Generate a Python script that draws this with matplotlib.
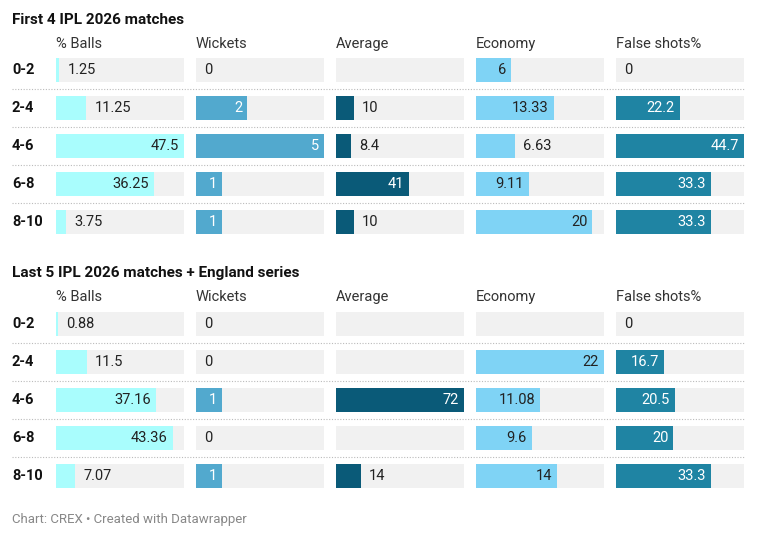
import matplotlib
matplotlib.use("Agg")
import matplotlib.pyplot as plt

plt.rcParams["font.family"] = ["Roboto", "DejaVu Sans"]

rows = ["0-2", "2-4", "4-6", "6-8", "8-10"]
columns = ["% Balls", "Wickets", "Average", "Economy", "False shots%"]
titles = ["First 4 IPL 2026 matches", "Last 5 IPL 2026 matches + England series"]

# None = empty cell
first_balls = [1.25, 11.25, 47.5, 36.25, 3.75]
first_wkts = [0, 2, 5, 1, 1]
first_avg = [None, 10, 8.4, 41, 10]
first_econ = [6, 13.33, 6.63, 9.11, 20]
first_false = [0, 22.2, 44.7, 33.3, 33.3]

last_balls = [0.88, 11.5, 37.16, 43.36, 7.07]
last_wkts = [0, 0, 1, 0, 1]
last_avg = [None, None, 72, None, 14]
last_econ = [None, 22, 11.08, 9.6, 14]
last_false = [0, 16.7, 20.5, 20, 33.3]

labels_first = [["1.25", "11.25", "47.5", "36.25", "3.75"], ["0", "2", "5", "1", "1"],
                ["", "10", "8.4", "41", "10"], ["6", "13.33", "6.63", "9.11", "20"],
                ["0", "22.2", "44.7", "33.3", "33.3"]]
labels_last = [["0.88", "11.5", "37.16", "43.36", "7.07"], ["0", "0", "1", "0", "1"],
               ["", "", "72", "", "14"], ["", "22", "11.08", "9.6", "14"],
               ["0", "16.7", "20.5", "20", "33.3"]]

colors = ["#a9fdfd", "#52a9ce", "#0a5a78", "#7fd3f5", "#1f84a3"]
text_in = ["#222222", "white", "white", "#222222", "white"]
col_x = [56, 196, 336, 476, 616]
col_w = 128
row_h = 24
panels = [
    (first_balls, first_wkts, first_avg, first_econ, first_false, labels_first, 20, 44, [70, 108, 146, 184, 222]),
    (last_balls, last_wkts, last_avg, last_econ, last_false, labels_last, 273, 297, [324, 362, 400, 438, 476]),
]
maxes = [47.5, 5, 72, 22, 44.7]

fig = plt.figure(figsize=(7.57, 5.40), dpi=100)
ax = fig.add_axes([0, 0, 1, 1])
ax.set_xlim(0, 757); ax.set_ylim(540, 0); ax.axis("off")

for pi, (b, w, a, e, f, labs, ty, hy, ys) in enumerate(panels):
    ax.text(12, ty, titles[pi], fontsize=11, fontweight="bold", va="center", color="#111111")
    for ci, name in enumerate(columns):
        ax.text(col_x[ci], hy, name, fontsize=10.5, va="center", color="#333333")
    series = [b, w, a, e, f]
    for ri, r in enumerate(rows):
        y = ys[ri]
        ax.text(12, y, r, fontsize=10.5, fontweight="bold", va="center", color="#111111")
        if ri > 0:
            ax.plot([12, 744], [y - 19, y - 19], ls=(0, (1, 1.5)), lw=0.8, color="#bbbbbb")
        for ci in range(5):
            x0 = col_x[ci]
            ax.barh(y, col_w, left=x0, height=row_h, color="#f1f1f1")
            v = series[ci][ri]
            lab = labs[ci][ri]
            if v is None:
                continue
            bw = v / maxes[ci] * col_w
            if v > 0:
                ax.barh(y, bw, left=x0, height=row_h, color=colors[ci])
            tw = len(lab) * 7 + 14
            if bw > tw:
                ax.text(x0 + bw - 5, y, lab, fontsize=10.5, ha="right", va="center", color=text_in[ci])
            else:
                ax.text(x0 + bw + 8, y, lab, fontsize=10.5, ha="left", va="center", color="#222222")

ax.text(12, 520, "Chart: CREX • Created with Datawrapper", fontsize=9.5, va="center", color="#888888")
fig.savefig("out.png", dpi=100)
